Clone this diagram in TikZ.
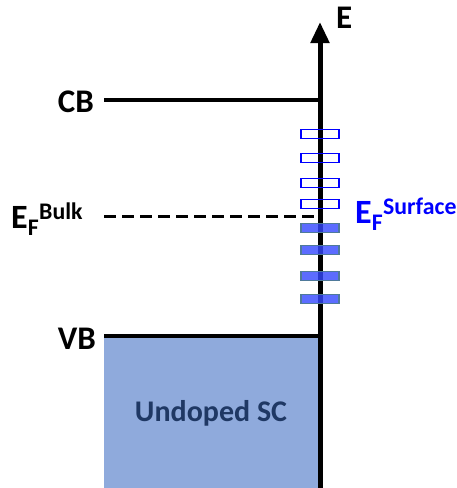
\documentclass[tikz,border=0pt]{standalone}
\usepackage{fontspec}
\setmainfont{Carlito}
\usetikzlibrary{arrows.meta}
\definecolor{scfill}{HTML}{8FAADC}
\definecolor{sctext}{HTML}{1F3864}
\definecolor{ssblue}{HTML}{0000FF}
\definecolor{ssfill}{HTML}{3347FF}
\definecolor{ssedge}{HTML}{4F7A9A}
\tikzset{
  band/.style={line width=4.5pt},
  emptystate/.style={draw=ssblue,line width=1.8pt,minimum width=38pt,minimum height=9pt,inner sep=0pt},
  fullstate/.style={draw=ssedge,fill=ssfill,fill opacity=0.8,line width=1.8pt,minimum width=38pt,minimum height=9pt,inner sep=0pt},
  lbl/.style={font=\bfseries\fontsize{33}{35}\selectfont,inner sep=0pt}
}
\begin{document}
\begin{tikzpicture}[x=1pt,y=-1pt]
\useasboundingbox (0,0) rectangle (457,488);
% semiconductor
\fill[scfill] (104,338) rectangle (320,488);
\node[text=sctext,font=\bfseries\fontsize{30}{32}\selectfont] (sc) at (211,413) {Undoped SC};
% axis
\coordinate (a0) at (320,488);
\coordinate (a1) at (320,22);
\draw[line width=5pt,-{Triangle[width=18pt,length=21pt]}] (a0) -- (a1);
\node[lbl,anchor=west] (E) at (336,18) {E};
% bands
\coordinate (cb0) at (104,100);
\coordinate (cb1) at (322,100);
\coordinate (vb0) at (104,336);
\coordinate (vb1) at (322,336);
\draw[band] (cb0) -- (cb1);
\draw[band] (vb0) -- (vb1);
\node[lbl,anchor=east] (CB) at (94,102) {CB};
\node[lbl,anchor=east] (VB) at (96,339) {VB};
% fermi level
\coordinate (ef0) at (104,216);
\coordinate (ef1) at (320,216);
\draw[line width=3pt,dash pattern=on 12pt off 6pt] (ef0) -- (ef1);
\node[font=\bfseries\fontsize{34}{36}\selectfont,anchor=west,inner sep=0pt] (EFb) at (11,219) {E\textsubscript{F}\textsuperscript{Bulk}};
% surface states
\node[emptystate] (s1) at (320,134) {};
\node[emptystate] (s2) at (320,158) {};
\node[emptystate] (s3) at (320,183) {};
\node[emptystate] (s4) at (320,204) {};
\node[fullstate] (s5) at (320,228) {};
\node[fullstate] (s6) at (320,250) {};
\node[fullstate] (s7) at (320,276) {};
\node[fullstate] (s8) at (320,299) {};
\node[text=ssblue,font=\bfseries\fontsize{34}{36}\selectfont,anchor=west,inner sep=0pt] (EFs) at (355,214) {E\textsubscript{F}\textsuperscript{Surface}};
\end{tikzpicture}
\end{document}
